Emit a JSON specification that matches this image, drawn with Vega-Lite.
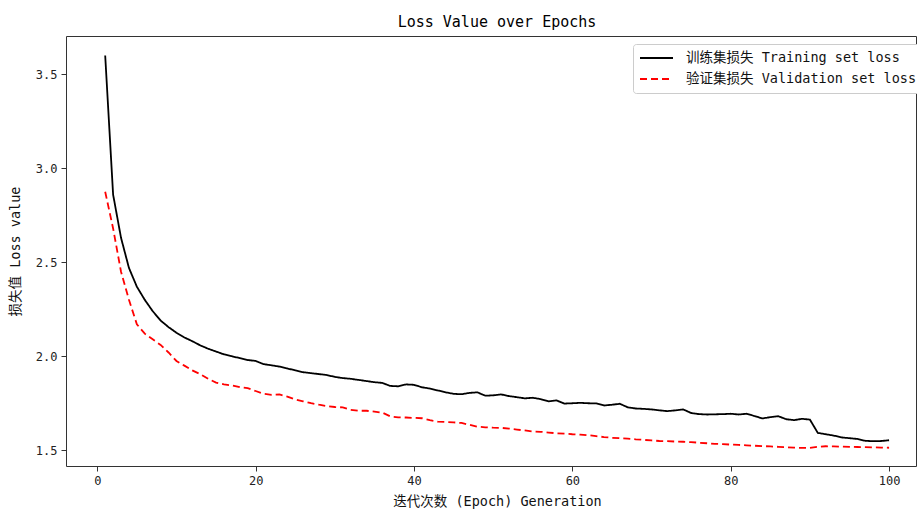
{
  "$schema": "https://vega.github.io/schema/vega-lite/v6.json",
  "autosize": "none",
  "width": 850,
  "height": 430,
  "padding": {"left": 66, "top": 36, "right": 1, "bottom": 44},
  "background": "white",
  "title": {"text": "Loss Value over Epochs", "font": "DejaVu Sans Mono", "fontSize": 15, "fontWeight": "normal", "color": "#000000", "offset": 6, "dx": 6},
  "data": {"values": [
    {"epoch":1,"train":3.60,"val":2.875},{"epoch":2,"train":2.86,"val":2.68},{"epoch":3,"train":2.63,"val":2.45},{"epoch":4,"train":2.47,"val":2.30},{"epoch":5,"train":2.37,"val":2.17},
    {"epoch":6,"train":2.30,"val":2.12},{"epoch":7,"train":2.24,"val":2.09},{"epoch":8,"train":2.19,"val":2.06},{"epoch":9,"train":2.155,"val":2.02},{"epoch":10,"train":2.125,"val":1.975},
    {"epoch":11,"train":2.10,"val":1.95},{"epoch":12,"train":2.08,"val":1.925},{"epoch":13,"train":2.058,"val":1.905},{"epoch":14,"train":2.04,"val":1.88},{"epoch":15,"train":2.025,"val":1.86},
    {"epoch":16,"train":2.01,"val":1.85},{"epoch":17,"train":2.00,"val":1.845},{"epoch":18,"train":1.99,"val":1.835},{"epoch":19,"train":1.98,"val":1.83},{"epoch":20,"train":1.975,"val":1.815},
    {"epoch":21,"train":1.958,"val":1.80},{"epoch":22,"train":1.952,"val":1.795},{"epoch":23,"train":1.945,"val":1.797},{"epoch":24,"train":1.935,"val":1.785},{"epoch":25,"train":1.925,"val":1.77},
    {"epoch":26,"train":1.915,"val":1.76},{"epoch":27,"train":1.91,"val":1.75},{"epoch":28,"train":1.905,"val":1.742},{"epoch":29,"train":1.90,"val":1.735},{"epoch":30,"train":1.89,"val":1.73},
    {"epoch":31,"train":1.884,"val":1.728},{"epoch":32,"train":1.88,"val":1.715},{"epoch":33,"train":1.874,"val":1.71},{"epoch":34,"train":1.868,"val":1.71},{"epoch":35,"train":1.862,"val":1.705},
    {"epoch":36,"train":1.858,"val":1.70},{"epoch":37,"train":1.842,"val":1.68},{"epoch":38,"train":1.840,"val":1.675},{"epoch":39,"train":1.850,"val":1.674},{"epoch":40,"train":1.848,"val":1.672},
    {"epoch":41,"train":1.835,"val":1.67},{"epoch":42,"train":1.828,"val":1.66},{"epoch":43,"train":1.818,"val":1.652},{"epoch":44,"train":1.808,"val":1.65},{"epoch":45,"train":1.80,"val":1.648},
    {"epoch":46,"train":1.798,"val":1.645},{"epoch":47,"train":1.805,"val":1.635},{"epoch":48,"train":1.808,"val":1.625},{"epoch":49,"train":1.790,"val":1.622},{"epoch":50,"train":1.792,"val":1.62},
    {"epoch":51,"train":1.797,"val":1.619},{"epoch":52,"train":1.788,"val":1.615},{"epoch":53,"train":1.782,"val":1.61},{"epoch":54,"train":1.776,"val":1.605},{"epoch":55,"train":1.779,"val":1.60},
    {"epoch":56,"train":1.772,"val":1.598},{"epoch":57,"train":1.760,"val":1.594},{"epoch":58,"train":1.765,"val":1.59},{"epoch":59,"train":1.748,"val":1.588},{"epoch":60,"train":1.750,"val":1.585},
    {"epoch":61,"train":1.752,"val":1.583},{"epoch":62,"train":1.750,"val":1.58},{"epoch":63,"train":1.749,"val":1.575},{"epoch":64,"train":1.738,"val":1.57},{"epoch":65,"train":1.742,"val":1.566},
    {"epoch":66,"train":1.747,"val":1.564},{"epoch":67,"train":1.728,"val":1.562},{"epoch":68,"train":1.722,"val":1.558},{"epoch":69,"train":1.720,"val":1.555},{"epoch":70,"train":1.717,"val":1.552},
    {"epoch":71,"train":1.712,"val":1.549},{"epoch":72,"train":1.708,"val":1.548},{"epoch":73,"train":1.712,"val":1.546},{"epoch":74,"train":1.717,"val":1.545},{"epoch":75,"train":1.698,"val":1.543},
    {"epoch":76,"train":1.692,"val":1.54},{"epoch":77,"train":1.690,"val":1.537},{"epoch":78,"train":1.691,"val":1.534},{"epoch":79,"train":1.692,"val":1.532},{"epoch":80,"train":1.694,"val":1.53},
    {"epoch":81,"train":1.690,"val":1.528},{"epoch":82,"train":1.694,"val":1.526},{"epoch":83,"train":1.682,"val":1.524},{"epoch":84,"train":1.669,"val":1.522},{"epoch":85,"train":1.676,"val":1.52},
    {"epoch":86,"train":1.681,"val":1.518},{"epoch":87,"train":1.665,"val":1.516},{"epoch":88,"train":1.660,"val":1.514},{"epoch":89,"train":1.667,"val":1.512},{"epoch":90,"train":1.663,"val":1.512},
    {"epoch":91,"train":1.592,"val":1.518},{"epoch":92,"train":1.585,"val":1.521},{"epoch":93,"train":1.578,"val":1.52},{"epoch":94,"train":1.568,"val":1.519},{"epoch":95,"train":1.564,"val":1.518},
    {"epoch":96,"train":1.560,"val":1.517},{"epoch":97,"train":1.550,"val":1.516},{"epoch":98,"train":1.548,"val":1.515},{"epoch":99,"train":1.549,"val":1.514},{"epoch":100,"train":1.553,"val":1.513}
  ]},
  "transform": [{"fold": ["train", "val"], "as": ["series", "loss"]}],
  "mark": {"type": "line", "strokeWidth": 1.8, "clip": true},
  "encoding": {
    "x": {
      "field": "epoch", "type": "quantitative",
      "scale": {"domain": [-3.95, 103.4], "nice": false, "zero": false},
      "axis": {
        "values": [0, 20, 40, 60, 80, 100],
        "title": "迭代次数 (Epoch) Generation",
        "titleX": 431, "titleY": 35, "titleBaseline": "middle", "titleAlign": "center"
      }
    },
    "y": {
      "field": "loss", "type": "quantitative",
      "scale": {"domain": [1.416, 3.704], "nice": false, "zero": false},
      "axis": {
        "values": [1.5, 2.0, 2.5, 3.0, 3.5],
        "format": ".1f",
        "title": "损失值 Loss value",
        "titleX": -51, "titleY": 215, "titleBaseline": "middle", "titleAlign": "center", "titleAngle": -90
      }
    },
    "color": {
      "field": "series", "type": "nominal",
      "scale": {"domain": ["train", "val"], "range": ["#000000", "#ff0000"]},
      "legend": {
        "title": null,
        "orient": "none", "legendX": 567, "legendY": 8,
        "labelExpr": "datum.label == 'train' ? '训练集损失 Training set loss' : '验证集损失 Validation set loss'"
      }
    },
    "strokeDash": {
      "field": "series", "type": "nominal",
      "scale": {"domain": ["train", "val"], "range": [[1, 0], [7, 4]]},
      "legend": {
        "title": null,
        "orient": "none", "legendX": 567, "legendY": 8,
        "labelExpr": "datum.label == 'train' ? '训练集损失 Training set loss' : '验证集损失 Validation set loss'"
      }
    }
  },
  "config": {
    "view": {"stroke": "#333333", "strokeWidth": 1},
    "axis": {
      "grid": false,
      "domain": false,
      "ticks": true, "tickColor": "#333333", "tickSize": 5, "tickWidth": 1,
      "labelFont": "DejaVu Sans Mono", "labelFontSize": 12, "labelColor": "#222222", "labelPadding": 4,
      "titleFont": "DejaVu Sans Mono, Noto Sans CJK SC", "titleFontSize": 13.5, "titleFontWeight": "normal", "titleColor": "#111111"
    },
    "legend": {
      "strokeColor": "#cccccc", "fillColor": "#ffffff", "cornerRadius": 3, "padding": 6,
      "symbolType": "stroke", "symbolSize": 1089, "symbolStrokeWidth": 2, "clipHeight": 16,
      "rowPadding": 5, "labelOffset": 12,
      "labelFont": "DejaVu Sans Mono, Noto Sans CJK SC", "labelFontSize": 13.5, "labelColor": "#111111", "labelLimit": 400
    }
  }
}
